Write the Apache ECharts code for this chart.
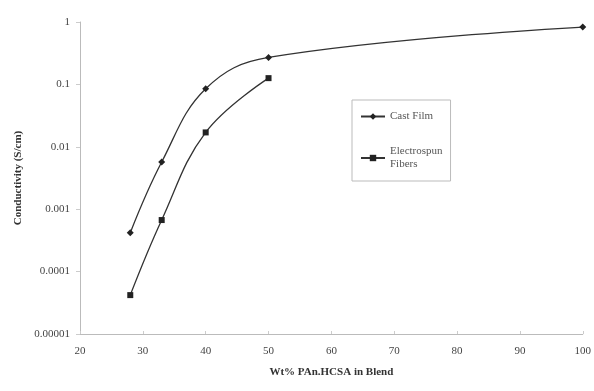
<!DOCTYPE html>
<html>
<head>
<meta charset="utf-8">
<script src="https://cdn.jsdelivr.net/npm/echarts@6/dist/echarts.min.js"></script>
<style>
  html, body { margin: 0; padding: 0; background: #fff; }
  #main { width: 594px; height: 391px; }
</style>
</head>
<body>
<div id="main"></div>
<script>
var dom = document.getElementById("main");
var myChart = echarts.init(dom);

// wt% PAn.HCSA in blend
var castX = [28, 33, 40, 50, 100];
var castY = [0.00042, 0.0057, 0.085, 0.27, 0.83];
var fiberX = [28, 33, 40, 50];
var fiberY = [0.000042, 0.00067, 0.017, 0.126];
var yTickLabels = ['0.00001', '0.0001', '0.001', '0.01', '0.1', '1'];

function pairs(xs, ys) {
    return xs.map(function (x, i) { return [x, ys[i]]; });
}

var font = 'Liberation Serif';

option = {
    backgroundColor: '#fff',
    textStyle: { fontFamily: font },
    grid: {
        left: 80,
        right: 9,
        top: 22,
        bottom: 57
    },
    legend: {
        orient: 'vertical',
        left: 352,
        top: 100,
        width: 106,
        padding: [10, 8, 10, 8],
        itemGap: 22,
        itemWidth: 24,
        itemHeight: 8,
        borderColor: '#bbb',
        borderWidth: 1,
        textStyle: { fontFamily: font, fontSize: 11, color: '#555', lineHeight: 13 },
        data: ['Cast Film', 'Electrospun\nFibers']
    },
    xAxis: {
        type: 'value',
        min: 20,
        max: 100,
        interval: 10,
        name: 'Wt% PAn.HCSA in Blend',
        nameLocation: 'middle',
        nameGap: 33,
        nameTextStyle: { fontFamily: font, fontSize: 11, fontWeight: 'bold', color: '#333' },
        axisLine: { lineStyle: { color: '#bbb' } },
        axisTick: { show: true, inside: true, length: 3, lineStyle: { color: '#ccc' } },
        axisLabel: { fontFamily: font, fontSize: 11, color: '#444', margin: 12 },
        splitLine: { show: false }
    },
    yAxis: {
        type: 'log',
        logBase: 10,
        min: 0.00001,
        max: 1,
        name: 'Conductivity (S/cm)',
        nameLocation: 'middle',
        nameGap: 52,
        nameTextStyle: { fontFamily: font, fontSize: 11, fontWeight: 'bold', color: '#333' },
        axisLine: { show: true, lineStyle: { color: '#bbb' } },
        axisTick: { show: true, length: 4, lineStyle: { color: '#ccc' } },
        axisLabel: {
            fontFamily: font,
            fontSize: 11,
            color: '#444',
            margin: 10,
            formatter: function (v) {
                var k = Math.round(Math.log10(v)) + 5;
                return yTickLabels[k] !== undefined ? yTickLabels[k] : '';
            }
        },
        splitLine: { show: false }
    },
    series: [
        {
            name: 'Cast Film',
            type: 'line',
            smooth: 0.4,
            symbol: 'diamond',
            symbolSize: 7,
            lineStyle: { color: '#333', width: 1.3 },
            itemStyle: { color: '#222' },
            data: pairs(castX, castY)
        },
        {
            name: 'Electrospun\nFibers',
            type: 'line',
            smooth: 0.4,
            symbol: 'rect',
            symbolSize: 6,
            lineStyle: { color: '#333', width: 1.3 },
            itemStyle: { color: '#222' },
            data: pairs(fiberX, fiberY)
        }
    ]
};
myChart.setOption(option);
</script>
</body>
</html>
